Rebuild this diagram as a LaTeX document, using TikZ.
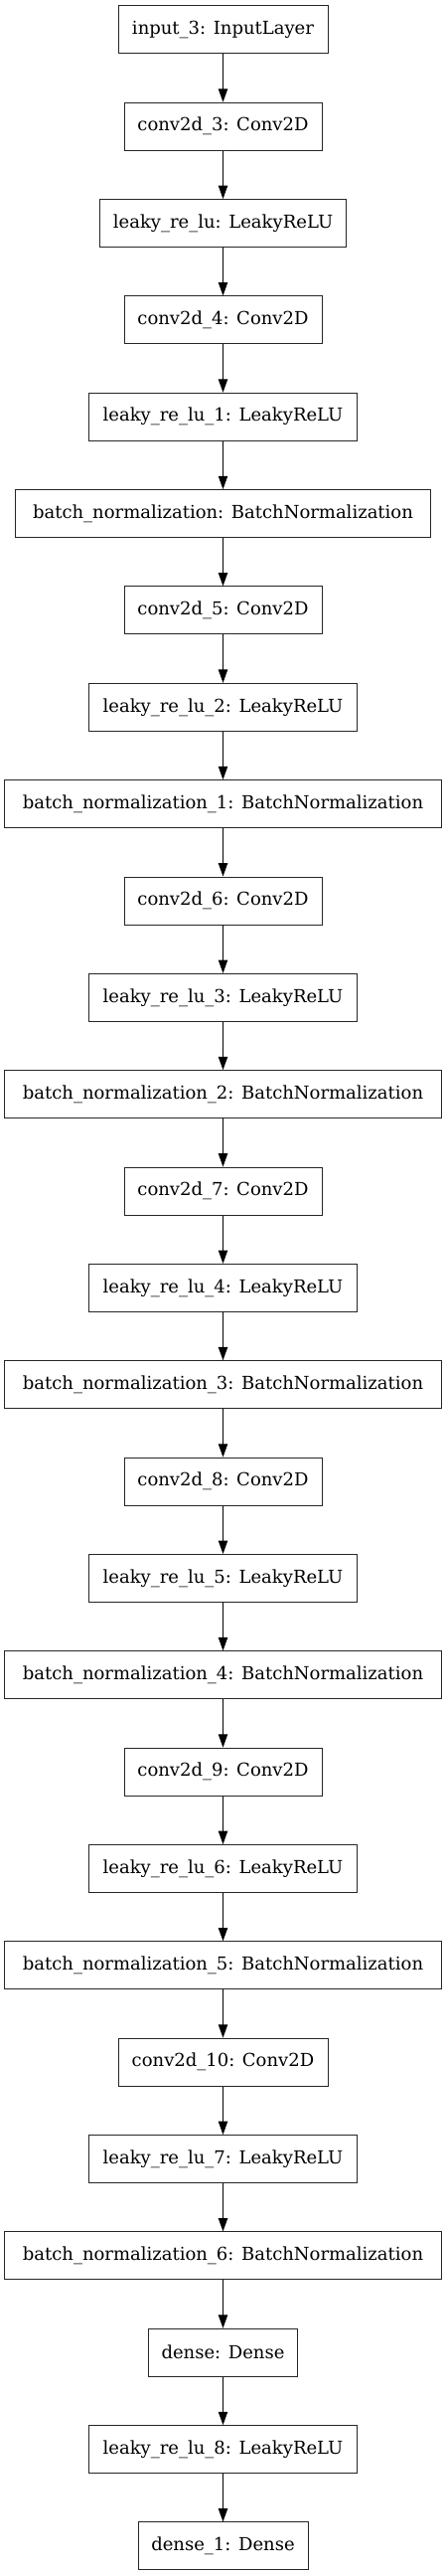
\documentclass[tikz,border=0pt]{standalone}
\usepackage{fontspec}
\setmainfont{DejaVu Serif}
\usetikzlibrary{arrows.meta}
\begin{document}
\begin{tikzpicture}[x=0.75pt,y=-0.75pt,
  layer/.style={draw=black!85,line width=0.75pt,rectangle,minimum height=36pt,inner sep=0pt,
    font=\fontsize{13.5pt}{16pt}\selectfont,anchor=center},
  link/.style={line width=0.75pt,-{Triangle[length=10pt,width=7pt]}}]
\useasboundingbox (0,0) rectangle (449,2591);
\def\cx{224.5}
\foreach \i/\nm/\w/\t in {
 0/n0/211/input\_3: InputLayer,
 1/n1/199/conv2d\_3: Conv2D,
 2/n2/248/leaky\_re\_lu: LeakyReLU,
 3/n3/199/conv2d\_4: Conv2D,
 4/n4/270/leaky\_re\_lu\_1: LeakyReLU,
 5/n5/418/batch\_normalization: BatchNormalization,
 6/n6/199/conv2d\_5: Conv2D,
 7/n7/270/leaky\_re\_lu\_2: LeakyReLU,
 8/n8/440/batch\_normalization\_1: BatchNormalization,
 9/n9/199/conv2d\_6: Conv2D,
 10/n10/270/leaky\_re\_lu\_3: LeakyReLU,
 11/n11/440/batch\_normalization\_2: BatchNormalization,
 12/n12/199/conv2d\_7: Conv2D,
 13/n13/270/leaky\_re\_lu\_4: LeakyReLU,
 14/n14/440/batch\_normalization\_3: BatchNormalization,
 15/n15/199/conv2d\_8: Conv2D,
 16/n16/270/leaky\_re\_lu\_5: LeakyReLU,
 17/n17/440/batch\_normalization\_4: BatchNormalization,
 18/n18/199/conv2d\_9: Conv2D,
 19/n19/270/leaky\_re\_lu\_6: LeakyReLU,
 20/n20/440/batch\_normalization\_5: BatchNormalization,
 21/n21/211/conv2d\_10: Conv2D,
 22/n22/270/leaky\_re\_lu\_7: LeakyReLU,
 23/n23/440/batch\_normalization\_6: BatchNormalization,
 24/n24/150/dense: Dense,
 25/n25/270/leaky\_re\_lu\_8: LeakyReLU,
 26/n26/171/dense\_1: Dense}
{
  \node[layer,minimum width=\w*0.75pt] (\nm) at (\cx,{29.85+97.35*\i}) {\t};
}
\foreach \a in {0,...,25}{
  \pgfmathtruncatemacro{\b}{\a+1}
  \draw[link] (n\a) -- (n\b);
}
\end{tikzpicture}
\end{document}
